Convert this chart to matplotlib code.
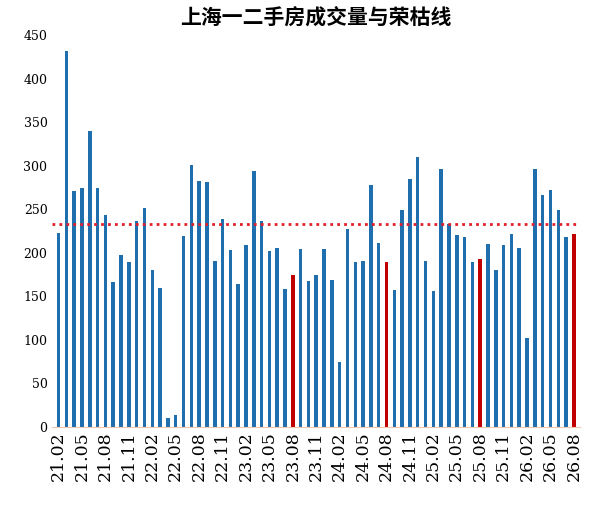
import matplotlib
matplotlib.use("Agg")
import matplotlib.pyplot as plt
import numpy as np

values = [223, 432, 271, 274, 340, 274, 244, 166, 197, 189, 237, 252, 180, 159, 10, 13,
          219, 301, 282, 281, 191, 239, 203, 164, 209, 294, 236, 202, 205, 158, 174,
          204, 167, 175, 204, 169, 74, 227, 189, 190, 278, 211, 189,
          157, 249, 285, 310, 190, 156, 296, 233, 221, 218, 189, 193,
          210, 180, 209, 222, 205, 102, 296, 267, 272, 249, 218, 222]
start_year, start_month = 21, 2
labels = []
y, m = start_year, start_month
for _ in values:
    labels.append(f"{y:02d}.{m:02d}")
    m += 1
    if m > 12:
        m = 1; y += 1
red_months = {"23.08", "24.08", "25.08", "26.08"}
line_value = 233

colors = ["#C00000" if l in red_months else "#1F6FAE" for l in labels]
fig = plt.figure(figsize=(5.95, 5.05), dpi=100)
ax = fig.add_axes([0.088, 0.155, 0.887, 0.775])
x = np.arange(len(values))
ax.bar(x, values, width=0.45, color=colors)
ax.axhline(line_value, color="#E0202A", linestyle=(0, (1, 1.5)), linewidth=2)
ax.set_ylim(0, 450)
ax.set_xlim(-0.8, len(values) - 0.2)
ax.set_yticks(range(0, 451, 50))
ax.set_xticks(x[::3])
ax.set_xticklabels(labels[::3], rotation=90, fontsize=12.5, family="DejaVu Serif")
for t in ax.get_yticklabels():
    t.set_family("DejaVu Serif"); t.set_fontsize(9)
for s in ["top", "right", "left"]:
    ax.spines[s].set_visible(False)
ax.spines["bottom"].set_color("#F0C8B0")
ax.tick_params(axis="both", length=0)
fig.suptitle("上海一二手房成交量与荣枯线", x=0.53, y=0.985, fontsize=15, fontweight="bold",
             family=["Noto Sans CJK SC", "DejaVu Sans"])
fig.savefig("out.png", dpi=100, facecolor="white")
